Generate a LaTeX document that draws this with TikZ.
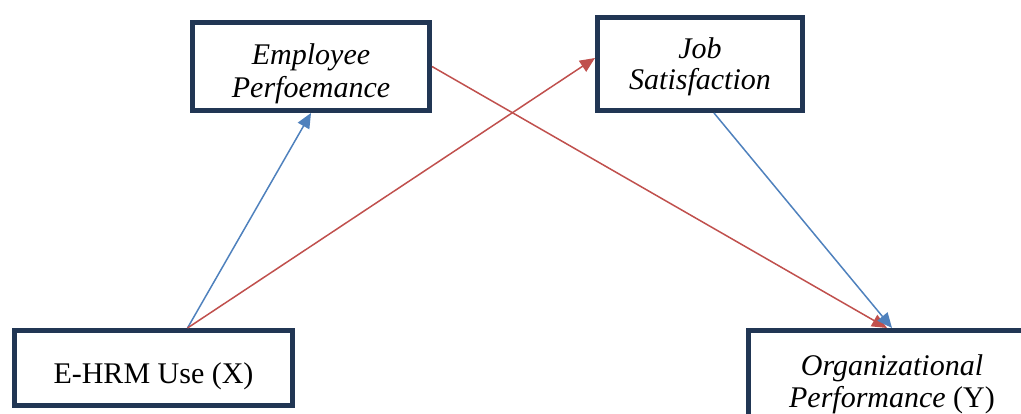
\documentclass[tikz,border=0pt]{standalone}
\usepackage{fontspec}
\setmainfont{Liberation Serif}
\usepackage{tikz}
\usetikzlibrary{arrows.meta, positioning}

\definecolor{boxnavy}{RGB}{33,54,84}
\definecolor{pathblue}{RGB}{79,129,189}
\definecolor{pathred}{RGB}{192,80,77}

\begin{document}
\begin{tikzpicture}[x=1pt,y=-1pt,on grid]
  \tikzstyle{block}=[draw=boxnavy, line width=5pt, fill=white, align=center,
                     inner xsep=0pt, inner ysep=0pt,
                     font=\fontsize{30}{34}\selectfont]
  \tikzstyle{bluepath}=[draw=pathblue, line width=1.5pt,
                        -{Triangle[length=15pt,width=13pt]}, pathblue]
  \tikzstyle{redpath}=[draw=pathred, line width=1.5pt,
                       -{Triangle[length=15pt,width=13pt]}, pathred]

  \useasboundingbox (0,0) rectangle (1021,414);
  \clip (0,0) rectangle (1021,414);

    \node[block, minimum width=278pt, text height=53.5pt, text depth=21.5pt]
          (ehrm) at (153.5,368) {E-HRM Use (X)};
    \node[block, minimum width=237pt, text height=75.5pt, text depth=12.5pt, font=\fontsize{30}{33}\selectfont\itshape]
          (ep)   [above right=301.5pt and 157.5pt of ehrm] {Employee\\Perfoemance};
    \node[block, minimum width=205pt, text height=72.5pt, text depth=20.5pt, font=\fontsize{30}{31}\selectfont\itshape]
          (js)   [above right=2.5pt and 389pt of ep] {Job\\Satisfaction};
    \node[block, minimum width=287pt, text height=76.5pt, text depth=13.5pt, font=\fontsize{30}{32}\selectfont\itshape]
          (op)   [below right=7.5pt and 738.5pt of ehrm] {Organizational\\Performance {\upshape(Y)}};

    % paths between the variables
    \draw[bluepath] ([xshift=34pt]ehrm.north) -- (ep.south);
    \draw[redpath]  ([xshift=34pt]ehrm.north) -- ([yshift=6pt]js.west);
    \draw[redpath]  (ep.east) -- ([xshift=-5pt]op.north);
    \draw[bluepath] ([xshift=14pt]js.south) -- (op.north);

\end{tikzpicture}
\end{document}
